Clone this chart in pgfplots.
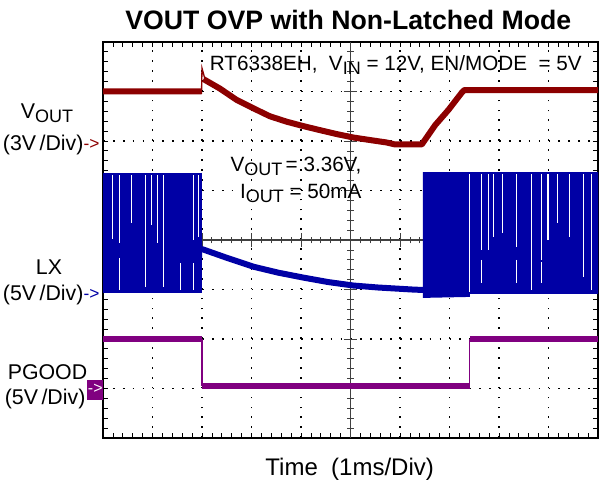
\documentclass[border=0pt]{standalone}
\usepackage{pgfplots}
\pgfplotsset{compat=1.18}
\usepackage{fontspec}
\setmainfont{Liberation Sans}

\definecolor{vout}{RGB}{140,0,0}
\definecolor{lx}{RGB}{0,0,165}
\definecolor{pg}{RGB}{128,0,128}

\newcommand{\fs}{\fontsize{15.5}{18}\selectfont}
\newcommand{\fl}{\fontsize{16}{19}\selectfont}
\newcommand{\sub}[1]{\raisebox{-3pt}{\fontsize{13.5}{15}\selectfont #1}}
\newcommand{\arr}{\raisebox{0.5pt}{\fontsize{13}{14}\selectfont ->}}

\begin{document}
\begin{tikzpicture}
\useasboundingbox (-77.25pt,-38.25pt) rectangle (372.75pt,328.5pt);
\begin{axis}[
    at={(0pt,0pt)}, anchor=south west,
    scale only axis, width=371.25pt, height=297pt,
    xmin=0, xmax=10, ymin=0, ymax=8,
    xtick={0,...,10}, ytick={0,...,8},
    minor tick num=4,
    xticklabels={}, yticklabels={},
    tick align=inside,
    major tick length=4pt, minor tick length=3.5pt,
    tick style={black, line width=0.6pt},
    grid=major,
    major grid style={black, line width=1.3pt, dash pattern=on 1.3pt off 6.125pt},
    axis line style={black, line width=0.8pt},
    unbounded coords=jump,
]
% centre cross with its ticks
\draw[black!75, line width=0.8pt] (axis cs:5,0) -- (axis cs:5,8);
\draw[black!75, line width=0.8pt] (axis cs:0,4) -- (axis cs:10,4);
\pgfplotsinvokeforeach{1,...,49}{\draw[black!75, line width=0.6pt] (axis cs:#1/5,3.93) -- (axis cs:#1/5,4.07);}
\pgfplotsinvokeforeach{1,...,39}{\draw[black!75, line width=0.6pt] (axis cs:4.93,#1/5) -- (axis cs:5.07,#1/5);}
\pgfplotsinvokeforeach{1,...,9}{\draw[black!75, line width=0.6pt] (axis cs:#1,3.86) -- (axis cs:#1,4.14);}
\pgfplotsinvokeforeach{1,...,7}{\draw[black!75, line width=0.6pt] (axis cs:4.86,#1) -- (axis cs:5.14,#1);}

% VOUT
\addplot[vout, line width=4.5pt, line join=round] coordinates {
    (0,7.0) (1.99,7.0) (1.99,nan)
    (2.03,7.25) (2.36,7.06) (2.70,6.83) (3.04,6.66) (3.37,6.50) (3.71,6.39)
    (4.05,6.30) (4.38,6.22) (4.72,6.14) (5.06,6.07) (5.39,6.02) (5.73,5.97)
    (5.90,5.93) (6.44,5.93) (6.71,6.32) (6.98,6.63) (7.25,6.98) (7.30,7.03) (10,7.03)
};
\addplot[vout, line width=1pt] coordinates {(1.99,6.95) (2.0,7.47) (2.06,7.25)};

% LX switching bursts
\addplot[fill=lx, draw=lx, line width=0.3pt] coordinates {
    (0,2.92) (0,5.35) (1.98,5.35) (1.98,2.92)
};
\addplot[fill=lx, draw=lx, line width=0.3pt] coordinates {
    (6.46,2.83) (6.46,5.37) (10,5.37) (10,2.92) (7.40,2.92) (7.40,2.85)
};
% LX during the OVP interval
\addplot[lx, line width=4.5pt, line join=round] coordinates {
    (1.99,3.82) (2.53,3.63) (3.04,3.46) (3.54,3.34) (4.05,3.24)
    (4.55,3.15) (5.06,3.08) (5.56,3.04) (6.24,3.00) (6.47,2.99)
};
\addplot[lx, line width=1pt] coordinates {(1.98,3.0) (1.99,3.95)};
% gaps in the bursts
\addplot[white, line width=0.8pt] coordinates {
    (0.19,5.31) (0.19,4.03) (0.19,nan)
    (0.34,5.31) (0.34,3.93) (0.34,nan) (0.34,3.63) (0.34,2.99) (0.34,nan)
    (0.58,5.31) (0.58,4.34) (0.58,nan)
    (0.85,5.31) (0.85,3.06) (0.85,nan)
    (0.98,5.31) (0.98,4.30) (0.98,nan)
    (1.10,5.31) (1.10,3.93) (1.10,nan)
    (1.22,5.31) (1.22,3.06) (1.22,nan)
    (1.56,3.53) (1.56,2.99) (1.56,nan)
    (1.82,5.31) (1.82,4.00) (1.82,nan) (1.82,3.53) (1.82,2.99) (1.82,nan)
    (1.93,5.31) (1.93,4.07) (1.93,nan)
    (7.40,5.33) (7.40,2.94) (7.40,nan)
    (7.65,5.33) (7.65,3.80) (7.65,nan) (7.65,3.60) (7.65,3.13) (7.65,nan)
    (7.78,5.33) (7.78,3.80) (7.78,nan)
    (7.88,5.33) (7.88,4.07) (7.88,nan)
    (8.07,5.33) (8.07,4.14) (8.07,nan)
    (8.36,5.33) (8.36,3.86) (8.36,nan) (8.36,3.60) (8.36,3.13) (8.36,nan)
    (8.66,5.33) (8.66,2.99) (8.66,nan)
    (8.86,5.33) (8.86,3.60) (8.86,nan) (8.86,3.55) (8.86,3.13) (8.86,nan)
    (8.99,5.33) (8.99,4.00) (8.99,nan)
    (9.19,5.33) (9.19,4.34) (9.19,nan)
    (9.43,5.33) (9.43,4.07) (9.43,nan)
    (9.70,5.33) (9.70,3.26) (9.70,nan)
    (9.87,5.33) (9.87,2.99)
};

% PGOOD
\addplot[pg, line width=4.5pt] coordinates {
    (0,2.01) (2.0,2.01) (2.0,nan) (2.0,1.05) (7.41,1.05) (7.41,nan) (7.41,2.01) (10,2.01)
};
\addplot[pg, line width=1pt] coordinates {
    (2.0,2.01) (2.0,1.05) (2.0,nan) (7.41,1.05) (7.41,2.01)
};
\end{axis}

% title and annotations
\node[anchor=base, inner sep=0pt, font=\fontsize{20}{24}\selectfont\bfseries] at (184pt,306pt) {VOUT OVP with Non-Latched Mode};
\node[anchor=base west, inner sep=0pt, font=\fs] at (80pt,275.5pt) {RT6338EH,\ \ V\sub{IN} = 12V, EN/MODE\ \ = 5V};
\node[anchor=base east, inner sep=0pt, font=\fs] at (194pt,199.7pt) {V\sub{OUT}\,= 3.36V,};
\node[anchor=base east, inner sep=0pt, font=\fs] at (194pt,179.8pt) {I\sub{OUT} = 50mA};

% channel labels
\node[anchor=base, inner sep=0pt, font=\fl] at (-42pt,239.8pt) {V\sub{OUT}};
\node[anchor=base east, inner sep=0pt, font=\fl] at (-2.5pt,215.5pt) {(3V\,/Div)\textcolor{vout}{\arr}};
\node[anchor=base, inner sep=0pt, font=\fl] at (-40.5pt,122.25pt) {LX};
\node[anchor=base east, inner sep=0pt, font=\fl] at (-2.5pt,103pt) {(5V\,/Div)\textcolor{lx}{\arr}};
\node[anchor=base, inner sep=0pt, font=\fl] at (-41.6pt,43.5pt) {PGOOD};
\node[anchor=base east, inner sep=0pt, font=\fl] at (-13pt,24.75pt) {(5V\,/Div)};
\fill[pg] (-11.8pt,28.5pt) rectangle (0.2pt,43.5pt);
\node[white, inner sep=0pt, font=\fontsize{12}{13}\selectfont] at (-5.8pt,36.5pt) {->};

\node[anchor=base, inner sep=0pt, font=\fontsize{18}{21}\selectfont] at (185pt,-28.5pt) {Time\ \ (1ms/Div)};
\end{tikzpicture}
\end{document}
